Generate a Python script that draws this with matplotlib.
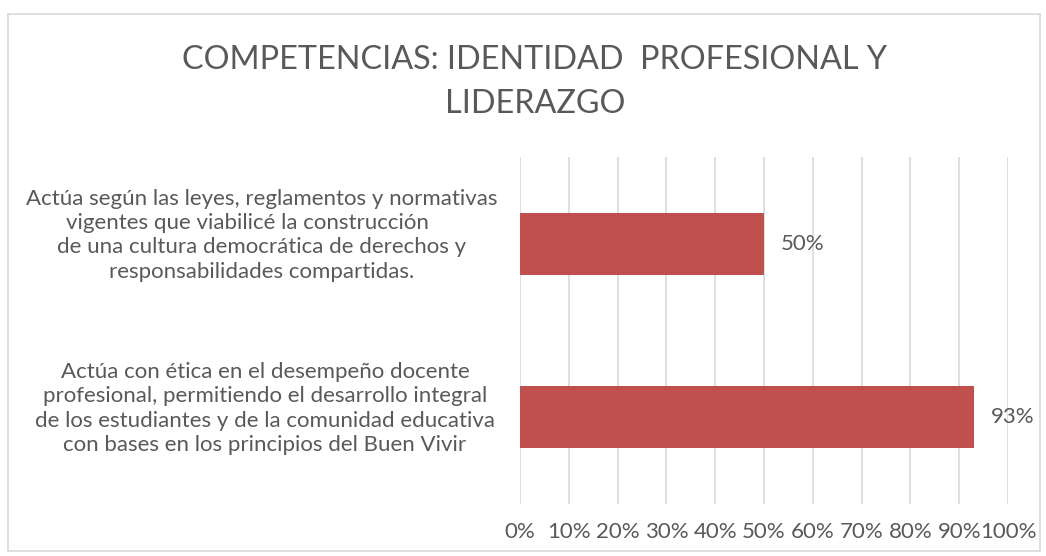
import matplotlib
matplotlib.use('Agg')
import matplotlib.pyplot as plt
from matplotlib.patches import Rectangle
from matplotlib.transforms import blended_transform_factory

# Datos del gráfico (de abajo hacia arriba)
categorias = [
    'Actúa con ética en el desempeño docente\n'
    'profesional, permitiendo el desarrollo integral\n'
    'de los estudiantes y de la comunidad educativa\n'
    'con bases en los principios del Buen Vivir',
    'Actúa según las leyes, reglamentos y normativas\n'
    'vigentes que viabilicé la construcción     \n'
    'de una cultura democrática de derechos y\n'
    'responsabilidades compartidas.',
]
valores = [0.93, 0.50]
ticks = [0, 0.1, 0.2, 0.3, 0.4, 0.5, 0.6, 0.7, 0.8, 0.9, 1.0]
titulo = 'COMPETENCIAS: IDENTIDAD  PROFESIONAL Y\nLIDERAZGO'

gris = '#595959'
plt.rcParams['font.family'] = ['Lato', 'DejaVu Sans']

fig = plt.figure(figsize=(10.46, 5.56), dpi=100)
ax = fig.add_axes([520 / 1046, 1 - 504 / 556, 488 / 1046, 347 / 556])

pos = range(len(valores))
ax.barh(pos, valores, height=0.36, color='#C0504D', zorder=3)
ax.set_ylim(-0.5, 1.5)
ax.set_xlim(0, 1)
ax.set_xticks(ticks)
ax.set_xticklabels([f'{int(round(t * 100))}%' for t in ticks], color=gris, fontsize=16)
ax.tick_params(axis='x', length=0, pad=13)
ax.set_yticks([])
ax.grid(axis='x', color='#D9D9D9', linewidth=1.2, zorder=0)
for s in ax.spines.values():
    s.set_visible(False)

for i, v in enumerate(valores):
    ax.annotate(f'{int(round(v * 100))}%', (v, i), xytext=(12, 0), textcoords='offset points',
                va='center', ha='left', color=gris, fontsize=16)

tr = blended_transform_factory(fig.transFigure, ax.transData)
xs = [265 / 1046, 262 / 1046]
for i, c in enumerate(categorias):
    fig.text(xs[i], i + 0.05, c, transform=tr, ha='center', va='center', multialignment='center',
             color=gris, fontsize=16, linespacing=1.27)

fig.text(535 / 1046, 1 - 82 / 556, titulo, ha='center', va='center', color=gris,
         fontsize=23.3, linespacing=1.56)

fig.patches.append(Rectangle((8 / 1046, 1 - 551 / 556), 1032 / 1046, 537 / 556,
                             transform=fig.transFigure, fill=False, edgecolor='#D9D9D9',
                             linewidth=1.2))

fig.savefig('out.png', dpi=100, facecolor='white')
